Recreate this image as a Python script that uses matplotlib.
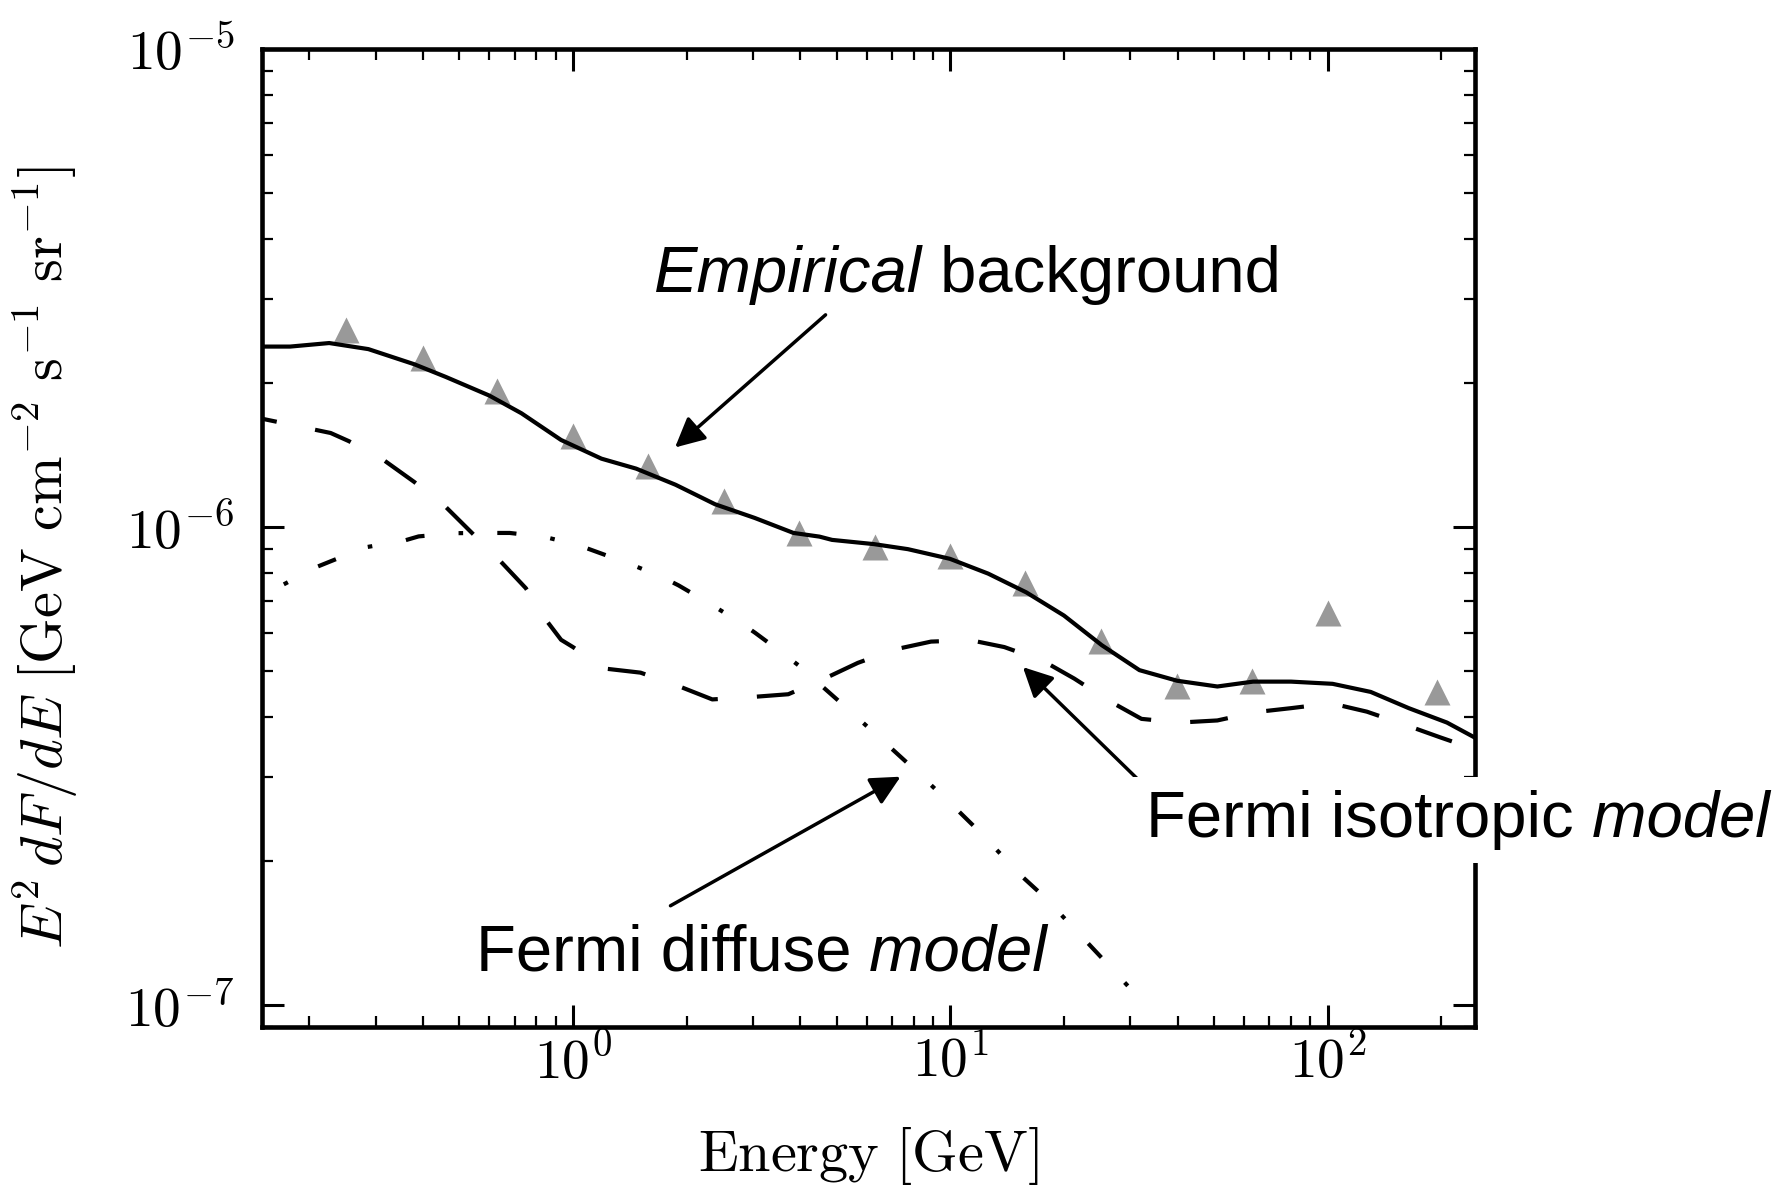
import numpy as np
import matplotlib
matplotlib.use('Agg')
import matplotlib.pyplot as plt
from matplotlib.ticker import FuncFormatter, NullFormatter, LogLocator

plt.rcParams['mathtext.fontset'] = 'cm'

# ---- data ----
# Empirical background (solid)
E_emp = [0.15, 0.178, 0.226, 0.287, 0.38, 0.46, 0.60, 0.73, 0.93, 1.19, 1.47, 1.87,
         2.38, 3.03, 3.84, 4.5, 4.86, 6.28, 7.72, 9.98, 12.6, 15.9, 20.0, 25.2, 31.7,
         39.9, 51.0, 63.4, 79.9, 103, 130, 164, 207, 245]
F_emp = [2.385, 2.385, 2.426, 2.356, 2.19, 2.061, 1.884, 1.730, 1.521, 1.390, 1.325, 1.226,
         1.116, 1.045, 0.972, 0.955, 0.940, 0.921, 0.899, 0.858, 0.799, 0.730, 0.653, 0.566, 0.502,
         0.477, 0.464, 0.475, 0.475, 0.470, 0.452, 0.418, 0.390, 0.363]

# Fermi isotropic model (dashed)
E_iso = [0.15, 0.228, 0.255, 0.317, 0.38, 0.46, 0.54, 0.64, 0.75, 0.85, 0.93, 1.0,
         1.21, 1.51, 1.89, 2.34, 2.97, 3.72, 4.59, 5.69, 7.15, 8.89, 11.3, 13.9, 17.6,
         21.3, 26.2, 32.1, 40.5, 51.0, 64.2, 79.9, 102, 127, 160, 199, 245]
F_iso = [1.685, 1.573, 1.512, 1.376, 1.242, 1.102, 0.972, 0.851, 0.745, 0.638, 0.581, 0.561,
         0.506, 0.496, 0.466, 0.436, 0.441, 0.447, 0.480, 0.520, 0.555, 0.576, 0.580, 0.561, 0.525,
         0.482, 0.434, 0.397, 0.390, 0.394, 0.410, 0.418, 0.428, 0.411, 0.386, 0.363, 0.343]

# Fermi diffuse model (dash-dot)
E_dif = [0.166, 0.21, 0.234, 0.284, 0.354, 0.39, 0.488, 0.603, 0.68, 0.84, 1.035, 1.153,
         1.411, 1.717, 1.905, 2.294, 2.761, 3.038, 3.601, 4.241, 4.593, 5.43, 6.96, 8.13,
         10.37, 12.04, 15.25, 17.69, 22.13, 25.69, 32.1]
F_dif = [0.749, 0.826, 0.855, 0.908, 0.935, 0.956, 0.971, 0.972, 0.972, 0.954, 0.916, 0.888,
         0.838, 0.787, 0.755, 0.693, 0.633, 0.601, 0.544, 0.493, 0.463, 0.412, 0.345, 0.3085,
         0.2573, 0.2292, 0.1879, 0.1688, 0.140, 0.1235, 0.1022]

# data points (triangles)
E_dat = [0.25, 0.40, 0.63, 1.0, 1.58, 2.51, 3.98, 6.31, 10.0, 15.8, 25.1, 39.8, 63.1, 100, 195]
F_dat = [2.578, 2.257, 1.922, 1.554, 1.344, 1.132, 0.970, 0.909, 0.869, 0.765, 0.577, 0.466,
         0.476, 0.661, 0.452]

scale = 1e-6

fig = plt.figure(figsize=(17.85, 11.97), dpi=100)
ax = fig.add_axes([0.1468, 0.1420, 0.6793, 0.8171])

ax.plot(E_dat, np.array(F_dat) * scale, linestyle='none', marker='^', ms=19,
        color='0.6', mec='none', zorder=2)
ax.plot(E_emp, np.array(F_emp) * scale, '-', color='k', lw=3, zorder=3)
ax.plot(E_iso, np.array(F_iso) * scale, color='k', lw=3, zorder=3,
        linestyle=(5.5, (9.1, 9.4)), dash_capstyle='butt')
ax.plot(E_dif, np.array(F_dif) * scale, color='k', lw=3, zorder=3,
        linestyle=(11.4, (4.6, 8.2, 1.1, 8.2)), dash_capstyle='butt')

ax.set_xscale('log')
ax.set_yscale('log')
ax.set_xlim(0.15, 245)
ax.set_ylim(9e-8, 1e-5)

fmt = FuncFormatter(lambda v, p: r'$10^{%d}$' % int(round(np.log10(v))))
ax.xaxis.set_major_formatter(fmt)
ax.yaxis.set_major_formatter(fmt)
ax.xaxis.set_minor_formatter(NullFormatter())
ax.yaxis.set_minor_formatter(NullFormatter())
ax.xaxis.set_minor_locator(LogLocator(base=10, subs=np.arange(2, 10), numticks=20))
ax.yaxis.set_minor_locator(LogLocator(base=10, subs=np.arange(2, 10), numticks=20))

ax.tick_params(which='both', direction='in', top=True, right=True)
ax.tick_params(which='major', length=16, width=2.2, labelsize=40)
ax.tick_params(which='minor', length=8, width=1.6)
ax.tick_params(axis='x', which='major', pad=6)
ax.tick_params(axis='y', which='major', pad=20)
for s in ax.spines.values():
    s.set_linewidth(3.3)

ax.set_xlabel(r'$\mathrm{Energy\ [GeV]}$', fontsize=42)
ax.set_ylabel(r'$E^2\,dF/dE\ [\mathrm{GeV\ cm^{-2}\ s^{-1}\ sr^{-1}}]$', fontsize=42)
ax.xaxis.set_label_coords(0.5, -0.10)
ax.yaxis.set_label_coords(-0.15, 0.48)

# annotations
afont = dict(family=['Liberation Sans', 'DejaVu Sans'], fontsize=47)
arrow = dict(arrowstyle='-|>', color='k', lw=2.5, mutation_scale=45, shrinkA=0, shrinkB=0)

ax.annotate('', xy=(1.864, 1.467e-6), xytext=(4.67, 2.779e-6), arrowprops=arrow, zorder=4)
ax.annotate('', xy=(15.57, 5.094e-7), xytext=(33.7, 2.81e-7), arrowprops=arrow, zorder=4)
ax.annotate('', xy=(7.38, 3.005e-7), xytext=(1.813, 1.614e-7), arrowprops=arrow, zorder=4)

t1 = ax.text(1.641, 3.097e-6, 'Empirical', style='italic', va='baseline', ha='left', **afont)
ax.annotate(' background', xy=(1, 0), xycoords=t1, va='bottom', ha='left', **afont)

box = dict(boxstyle='square,pad=0.2', fc='white', ec='none')
t2 = ax.text(33.0, 2.25e-7, 'Fermi isotropic', va='baseline', ha='left', bbox=box,
             clip_on=False, zorder=11, **afont)
ax.annotate(' model', xy=(1, 0), xycoords=t2, va='bottom', ha='left', style='italic',
            bbox=box, annotation_clip=False, zorder=10, **afont)

t3 = ax.text(0.552, 1.181e-7, 'Fermi diffuse', va='baseline', ha='left', **afont)
ax.annotate(' model', xy=(1, 0), xycoords=t3, va='bottom', ha='left', style='italic', **afont)

fig.savefig('out.png', dpi=100)
